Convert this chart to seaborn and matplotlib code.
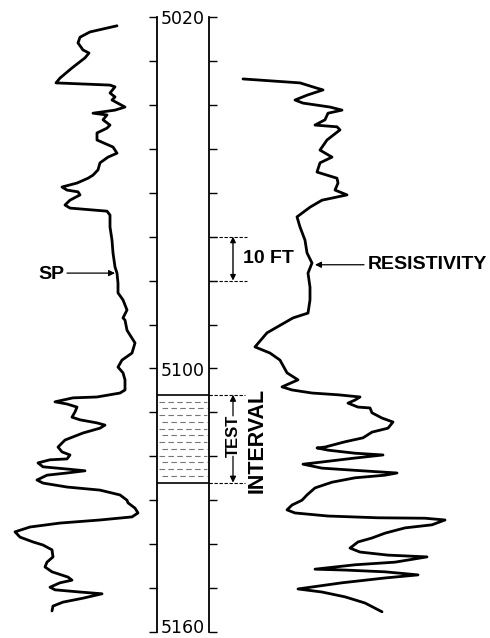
import numpy as np
import pandas as pd
import matplotlib
matplotlib.use("Agg")
import matplotlib.pyplot as plt
import seaborn as sns

# ---------------- data ----------------
# SP curve: deflection (arbitrary units, increasing to the right) vs depth (ft)
sp_depth = [5022.0, 5023.4, 5024.6, 5025.9, 5027.5, 5028.2, 5029.3, 5031.6, 5033.9, 5035.0,
            5035.5, 5035.9, 5037.3, 5038.2, 5038.9, 5040.5, 5041.2, 5041.9, 5042.3, 5043.4,
            5044.6, 5045.3, 5046.4, 5048.0, 5049.6, 5051.0, 5051.9, 5053.2, 5054.8, 5056.0,
            5056.7, 5057.8, 5058.7, 5059.4, 5059.8, 5060.5, 5061.7, 5062.8, 5063.5, 5064.2,
            5065.1, 5067.8, 5070.8, 5073.7, 5076.9, 5078.3, 5080.6, 5082.8, 5084.4, 5086.7,
            5088.5, 5089.0, 5091.3, 5092.4, 5094.2, 5096.5, 5098.1, 5099.7, 5101.0, 5102.6,
            5103.8, 5104.9, 5105.6, 5106.5, 5106.7, 5107.6, 5108.1, 5108.8, 5109.9, 5111.1,
            5111.7, 5112.4, 5112.9, 5113.6, 5114.7, 5116.3, 5117.9, 5119.0, 5119.7, 5120.6,
            5120.8, 5121.5, 5122.4, 5122.9, 5123.3, 5123.8, 5124.3, 5125.4, 5126.1, 5127.0,
            5127.7, 5128.8, 5130.0, 5130.6, 5131.8, 5132.9, 5133.8, 5134.5, 5135.2, 5136.1,
            5137.2, 5138.4, 5139.5, 5140.2, 5141.3, 5142.9, 5144.1, 5145.2, 5146.3, 5147.5,
            5148.2, 5148.8, 5149.8, 5150.4, 5150.9, 5151.3, 5152.3, 5153.2, 5154.1, 5155.2]
sp_value = [117, 90, 80, 78, 83, 89, 85, 72, 60, 56,
            110, 115, 110, 115, 112, 125, 115, 93, 107, 103,
            110, 107, 97, 97, 113, 117, 108, 100, 98, 93,
            88, 77, 62, 67, 78, 80, 70, 65, 70, 107,
            110, 110, 112, 113, 115, 117, 118, 118, 123, 127,
            123, 125, 127, 130, 135, 132, 122, 118, 123, 125,
            125, 125, 120, 97, 73, 55, 67, 77, 75, 72,
            80, 97, 105, 100, 83, 65, 58, 62, 70, 67,
            50, 38, 43, 67, 85, 67, 47, 37, 43, 67,
            100, 120, 127, 128, 135, 138, 132, 100, 60, 30,
            15, 20, 33, 43, 52, 53, 47, 45, 52, 68,
            72, 60, 50, 55, 80, 102, 83, 63, 53, 52]

# Resistivity curve: deflection (arbitrary units) vs depth (ft)
res_depth = [5034.1, 5035.0, 5036.2, 5036.6, 5037.8, 5038.9, 5039.6, 5040.5, 5041.2, 5041.9,
             5043.4, 5044.6, 5045.0, 5045.7, 5048.0, 5050.3, 5051.9, 5053.2, 5055.3, 5056.7,
             5057.8, 5059.4, 5060.5, 5061.7, 5063.3, 5065.5, 5067.8, 5070.8, 5073.7, 5076.0,
             5078.3, 5081.5, 5084.4, 5087.4, 5088.5, 5091.9, 5095.1, 5096.5, 5098.1, 5101.0,
             5102.6, 5104.2, 5104.9, 5105.6, 5106.0, 5106.5, 5107.2, 5107.9, 5108.8, 5109.0,
             5110.1, 5111.3, 5112.2, 5113.6, 5114.5, 5115.8, 5116.7, 5117.9, 5118.1, 5118.6,
             5119.3, 5119.7, 5120.4, 5121.3, 5121.8, 5122.7, 5123.3, 5123.8, 5124.3, 5124.9,
             5125.9, 5127.2, 5128.8, 5130.0, 5131.1, 5132.2, 5132.9, 5133.6, 5134.0, 5134.1,
             5134.5, 5135.6, 5136.3, 5137.5, 5138.6, 5139.5, 5140.9, 5141.8, 5142.5, 5142.9,
             5144.1, 5144.7, 5145.7, 5145.9, 5146.3, 5147.0, 5147.7, 5148.8, 5150.2, 5150.9,
             5152.0, 5153.4, 5155.4]
res_value = [243, 300, 317, 323, 307, 295, 303, 330, 342, 328,
             325, 315, 337, 340, 327, 320, 332, 320, 317, 337,
             338, 335, 347, 322, 310, 297, 300, 305, 307, 312,
             308, 310, 310, 308, 293, 267, 255, 270, 280, 287,
             298, 282, 292, 312, 338, 360, 355, 348, 358, 370,
             372, 382, 393, 388, 372, 363, 345, 325, 317, 328,
             355, 383, 355, 322, 303, 322, 362, 397, 385, 355,
             332, 315, 307, 302, 292, 287, 295, 328, 378, 425,
             445, 432, 405, 385, 372, 358, 350, 360, 388, 427,
             395, 355, 315, 345, 385, 418, 385, 342, 298, 322,
             345, 365, 382]

depth_ticks = list(range(5020, 5161, 10))
depth_label_values = [5020, 5100, 5160]
depth_label_text = ["5020", "5100", "5160"]
test_interval = [5106, 5126]
scale_bar = [5070, 5080]
sp_pointer_depth = 5078.3
res_pointer_depth = 5076.4

# ---------------- figure ----------------
sns.set_theme(style="white")
plt.rcParams["font.family"] = ["Liberation Sans", "DejaVu Sans"]
plt.rcParams["text.color"] = "black"

W, H = 490, 638
fig = plt.figure(figsize=(W / 100, H / 100), dpi=100)
fig.patch.set_facecolor("white")

bottom = 6 / H
height = (632 - 17) / H

# depth track
axd = fig.add_axes([157 / W, bottom, (209 - 157) / W, height])
axd.set_ylim(5160, 5020)
axd.set_xlim(0, 1)
axd.set_facecolor("none")
for s in ["top", "bottom"]:
    axd.spines[s].set_visible(False)
for s in ["left", "right"]:
    axd.spines[s].set_linewidth(1.3)
    axd.spines[s].set_color("black")
axd.set_xticks([])
axd.set_yticks(depth_ticks)
axd.tick_params(axis="y", left=True, right=True, direction="out", length=6,
                width=1.0, color="black", labelleft=False, labelright=False)
axd.grid(False)

# test interval shading
t0, t1 = test_interval
axd.axhline(t0, color="black", lw=1.2)
axd.axhline(t1, color="black", lw=1.2)
n_rows = 13
for i in range(1, n_rows):
    d = t0 + (t1 - t0) * i / n_rows
    off = 0.0 if i % 2 else 0.06
    axd.plot([0.04 + off, 0.96], [d, d], color="#777777", lw=0.8,
             dashes=(5, 3), dash_capstyle="butt")

for v, t in zip(depth_label_values, depth_label_text):
    dy = 0.5 if v in (5020, 5100) else -1.0
    axd.text(0.5, v + dy, t, ha="center", va="center", fontsize=12.5,
             family="DejaVu Sans", color="black")

# curve axes (full width, same depth scale)
ax = fig.add_axes([0, bottom, 1, height])
ax.set_facecolor("none")

sp_df = pd.DataFrame({"value": sp_value, "depth": sp_depth})
res_df = pd.DataFrame({"value": res_value, "depth": res_depth})
sns.lineplot(data=sp_df, x="value", y="depth", sort=False, estimator=None,
             color="black", lw=2.0, ax=ax, solid_joinstyle="round",
             solid_capstyle="round")
sns.lineplot(data=res_df, x="value", y="depth", sort=False, estimator=None,
             color="black", lw=2.0, ax=ax, solid_joinstyle="round",
             solid_capstyle="round")
ax.set_xlim(0, W)
ax.set_ylim(5160, 5020)
ax.axis("off")

lab_kw = dict(fontsize=14, fontweight="bold", color="black")
arrow_kw = dict(arrowstyle="-|>", color="black", lw=0.9, mutation_scale=9,
                shrinkA=0, shrinkB=0)

# SP label
ax.text(51, sp_pointer_depth + 0.3, "SP", ha="center", va="center", **lab_kw)
ax.annotate("", xy=(115, sp_pointer_depth), xytext=(67, sp_pointer_depth),
            arrowprops=arrow_kw)

# RESISTIVITY label
ax.text(368, res_pointer_depth, "RESISTIVITY", ha="left", va="center", **lab_kw)
ax.annotate("", xy=(315, res_pointer_depth), xytext=(364, res_pointer_depth),
            arrowprops=arrow_kw)

# 10 FT scale bar
for d in scale_bar:
    ax.plot([209, 247], [d, d], color="black", lw=0.8, dashes=(3, 1.5))
ax.annotate("", xy=(233, scale_bar[0]), xytext=(233, scale_bar[1]),
            arrowprops=dict(arrowstyle="<|-|>", color="black", lw=1.0,
                            mutation_scale=8, shrinkA=0, shrinkB=0))
ax.text(243, (scale_bar[0] + scale_bar[1]) / 2, "10 FT", ha="left", va="center",
        **lab_kw)

# TEST INTERVAL
for d in test_interval:
    ax.plot([209, 245], [d, d], color="black", lw=0.8, dashes=(3, 1.5))
mid = (t0 + t1) / 2
ax.text(233.5, mid - 0.6, "TEST", rotation=90, ha="center", va="center",
        fontsize=12, fontweight="bold", color="black")
ax.annotate("", xy=(233, t0), xytext=(233, mid - 5.2), arrowprops=arrow_kw)
ax.annotate("", xy=(233, t1), xytext=(233, mid + 4.0), arrowprops=arrow_kw)
ax.text(257, mid + 0.3, "INTERVAL", rotation=90, ha="center", va="center",
        fontsize=15.5, fontweight="bold", color="black")

fig.savefig("out.png", dpi=100, facecolor="white")
